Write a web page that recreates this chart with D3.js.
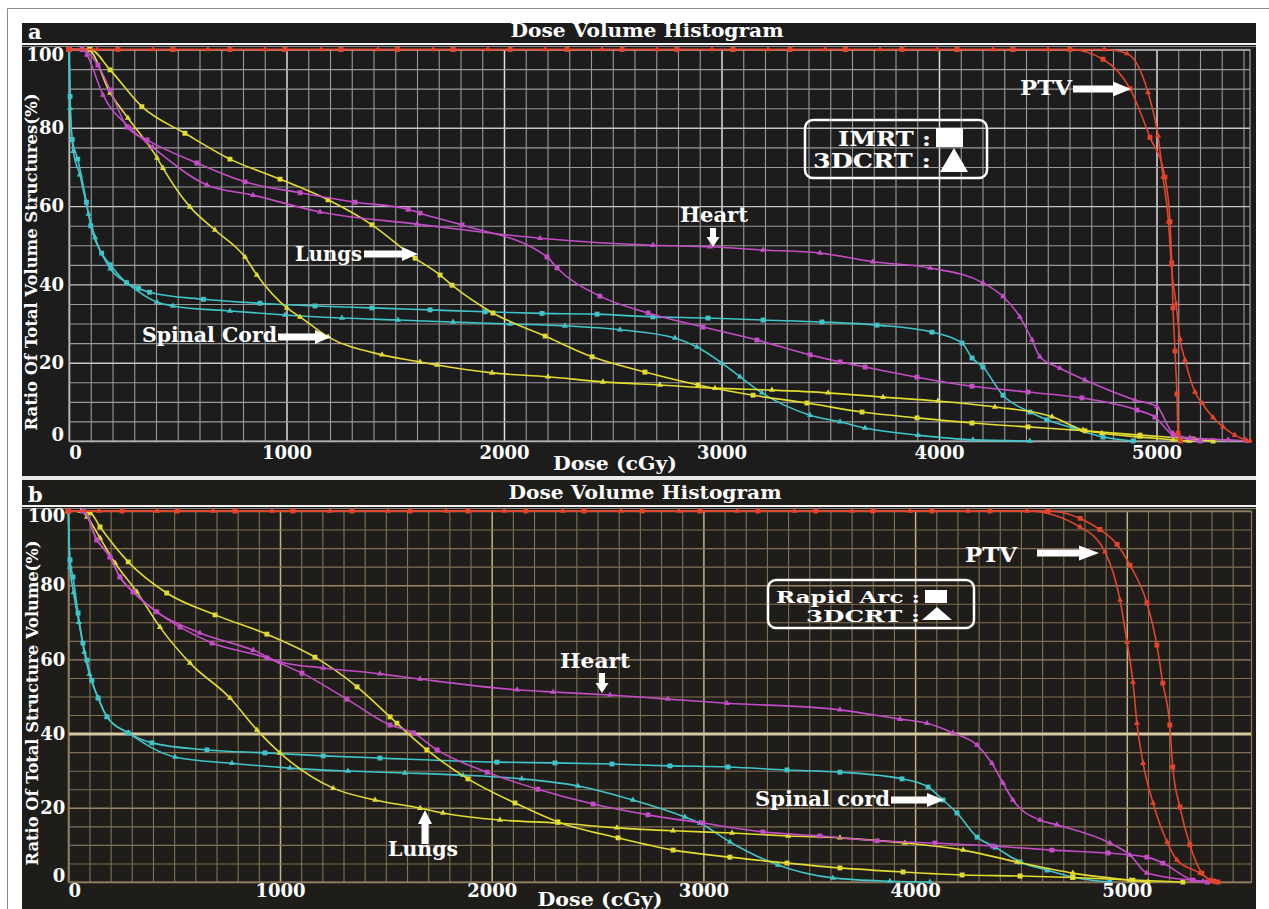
<!DOCTYPE html>
<html>
<head>
<meta charset="utf-8">
<script src="https://cdn.jsdelivr.net/npm/d3@7"></script>
<style>
  html, body { margin: 0; padding: 0; background: #ffffff; }
  svg { display: block; }
</style>
</head>
<body>
<svg id="fig" width="1269" height="909"></svg>
<script>
// ---------------------------------------------------------------------------
// Dose–volume histogram data: [dose (cGy), volume (%)]
// ---------------------------------------------------------------------------
const doseTicks = [0, 1000, 2000, 3000, 4000, 5000];
const volumeTicks = [0, 20, 40, 60, 80, 100];

// (a) IMRT vs 3DCRT
const aPtvImrt = [[0,100],[225,100],[478,100],[740,100],[993,100],[1250,100],[1510,100],[1766,100],[2028,100],[2290,100],[2543,100],[2795,100],[3053,100],[3315,100],[3570,100],[3830,100],[4083,100],[4340,100],[4602,100],[4754,97.5],[4878,90],[4970,77.6],[5039,67.4],[5062,56],[5070,45.5],[5076,34],[5085,23],[5094,12],[5099,2],[5110,0]];
const aPtv3dcrt = [[0,100],[129,100],[386,100],[639,100],[901,100],[1160,100],[1420,100],[1675,100],[1926,100],[2189,100],[2451,100],[2703,100],[2956,100],[3214,100],[3476,100],[3729,100],[3991,100],[4248,100],[4501,100],[4760,100],[4864,99],[4961,89],[5007,78],[5030,67.5],[5055,56],[5068,45],[5090,35],[5108,26],[5131,20.7],[5177,12.5],[5209,9.7],[5260,6],[5306,3.6],[5360,1.5],[5407,0.3],[5430,0]];
const aHeartImrt = [[0,100],[60,100],[133,96],[189,89.7],[267,80.2],[359,76.9],[588,71],[809,66.2],[1062,63.4],[1315,61],[1559,59.2],[1614,58.2],[1807,55.2],[2198,47],[2244,44.2],[2441,37],[2662,32.7],[2915,29.1],[3163,25.8],[3407,22],[3545,20.2],[3660,18.9],[3899,16.3],[4152,14],[4409,12.5],[4657,11],[4910,7.9],[4993,6.1],[5076,1.5],[5200,0]];
const aHeart3dcrt = [[0,100],[64,100],[83,98.6],[156,88.4],[280,80],[386,75],[634,65.4],[846,62.8],[1154,58.5],[1600,55.4],[2166,51.8],[2685,50],[2947,49.6],[3191,48.8],[3453,48],[3696,45.8],[3959,44.2],[4202,40.4],[4294,36.9],[4372,31.7],[4428,25.8],[4464,21.5],[4556,18.6],[4671,15.6],[4901,10.5],[5002,8.8],[5076,2],[5154,0.8],[5329,0.3],[5416,0]];
const aLungImrt = [[0,100],[97,100],[189,94.8],[335,85.4],[533,78.6],[740,72],[970,66.9],[1191,61.6],[1393,55.2],[1591,46.7],[1706,42.4],[1761,39.8],[1949,32.7],[2189,26.8],[2405,21.5],[2648,17.6],[2892,14.3],[3145,11.7],[3393,9.7],[3646,7.4],[3899,5.9],[4152,4.6],[4409,3.6],[4671,2.6],[4924,1.5],[5168,0.5],[5260,0]];
const aLung3dcrt = [[0,100],[88,100],[189,88.9],[271,82.5],[405,72.3],[432,69.7],[556,59.8],[671,53.9],[809,47],[864,42.4],[1002,34],[1062,31.7],[1191,26.6],[1439,22],[1614,20.2],[1692,19.4],[1945,17.4],[2202,16.4],[2455,15.1],[2717,14.3],[2970,13.5],[3232,13],[3490,12.3],[3743,11.2],[3995,10.2],[4257,8.7],[4520,6.2],[4662,2.8],[4749,2],[4924,1],[5076,0.3],[5150,0]];
const aCordImrt = [[0,100],[5,88],[15,77],[40,72],[80,61],[100,55],[150,48],[190,45],[265,40.4],[320,39],[370,38],[618,36.2],[878,35.2],[1131,34.5],[1393,34],[1660,33.5],[1913,33],[2175,32.6],[2428,32.4],[2685,31.7],[2938,31.4],[3191,30.9],[3462,30.4],[3715,29.6],[3968,27.8],[4106,25],[4152,21.2],[4202,18.9],[4294,11.7],[4418,7.4],[4496,5.4],[4616,3.3],[4754,1],[4892,0]];
const aCord3dcrt = [[0,100],[5,85],[20,74],[50,68],[90,58],[120,52],[190,44],[265,40.4],[404,35.5],[478,34.5],[740,33.2],[993,32.2],[1255,31.4],[1513,30.9],[1766,30.4],[2028,29.9],[2280,29.4],[2533,28.4],[2786,26.3],[2887,24],[3002,19.9],[3085,16.4],[3186,12.3],[3407,6.6],[3545,4.9],[3660,3.3],[3903,1.5],[4156,0.3],[4418,0]];

// (b) Rapid Arc vs 3DCRT
const bPtvArc = [[0,100],[254,100],[514,100],[787,100],[1061,100],[1340,100],[1614,100],[1888,100],[2162,100],[2436,100],[2710,100],[2984,100],[3258,100],[3530,100],[3801,100],[4079,100],[4354,100],[4628,100],[4780,98],[4873,95],[4954,91],[5015,85.4],[5095,75.2],[5142,63.9],[5170,53.6],[5203,42.3],[5217,31],[5251,20.2],[5298,10],[5355,2.4],[5408,0.3],[5430,0]];
const bPtv3dcrt = [[0,100],[145,100],[419,100],[684,100],[962,100],[1236,100],[1510,100],[1785,100],[2060,100],[2335,100],[2610,100],[2885,100],[3160,100],[3430,100],[3702,100],[3976,100],[4250,100],[4529,100],[4779,95.7],[4897,89],[4968,76],[5001,64.7],[5029,53.9],[5048,42.8],[5077,32],[5124,21.3],[5190,10.8],[5237,5.9],[5346,2.4],[5394,0.5],[5420,0]];
const bHeartArc = [[0,100],[70,100],[135,92.2],[197,87.6],[244,82.2],[306,78.2],[418,72.8],[528,68.7],[679,64.4],[938,60.4],[1104,56.3],[1316,49.3],[1520,42.3],[1630,40.2],[1742,35.6],[1978,29.6],[2218,25],[2479,21],[2738,18.1],[2998,15.9],[3281,13.5],[3550,12.4],[3820,11.1],[4094,10.5],[4367,9.7],[4646,8.6],[4911,7.8],[5095,6.7],[5170,5.1],[5312,0.5],[5380,0]];
const bHeart3dcrt = [[0,100],[70,100],[135,92.2],[197,87.6],[244,82.2],[306,78.2],[418,72.8],[622,67.1],[873,62.5],[1000,59.3],[1204,57.7],[1472,56.1],[1662,54.7],[2120,51.8],[2290,51.2],[2559,50.4],[2832,49.3],[3111,48.2],[3645,46.4],[3929,43.9],[4056,42.8],[4179,40.2],[4293,36.9],[4363,32],[4415,26.7],[4462,22.1],[4590,16.7],[4670,15.4],[4920,10.5],[5015,7.3],[5095,2.4],[5360,0.2],[5420,0]];
const bLungArc = [[0,100],[103,99.5],[150,95.7],[283,86.3],[465,77.9],[693,72],[938,66.8],[1165,60.6],[1364,52.6],[1520,44.5],[1552,42.8],[1694,35.6],[1888,27.8],[2110,21.3],[2313,16.2],[2597,11.9],[2857,8.6],[3125,6.7],[3395,5.1],[3645,3.8],[3943,2.7],[4222,1.9],[4496,1.6],[4745,1.2],[5029,0.5],[5265,0]];
const bLung3dcrt = [[0,100],[60,100],[89,98.4],[150,92.7],[221,86],[324,78.2],[433,68.7],[575,59],[764,49.6],[891,41],[1000,34.8],[1251,25.3],[1449,22.1],[1662,19.9],[1770,18.6],[2039,16.7],[2313,15.9],[2592,14.6],[2857,13.8],[3135,13.2],[3400,12.4],[3645,11.9],[3952,10.5],[4227,8.6],[4481,5.4],[4745,2.4],[5015,0.5],[5100,0]];
const bCordArc = [[0,100],[8,86.8],[22,82.2],[46,72.5],[69,64.4],[88,59.8],[111,54.4],[141,49.6],[183,44.5],[283,40.2],[395,37.5],[655,35.6],[929,34.8],[1204,34],[1472,33.4],[2025,32.3],[2299,32.1],[2568,31.8],[2842,31.3],[3116,31],[3395,30.2],[3645,29.6],[3938,27.8],[4061,25.6],[4132,22.1],[4198,18.6],[4293,12.1],[4378,9.4],[4496,5.4],[4623,3.2],[4745,1.3],[4920,0]];
const bCord3dcrt = [[0,100],[8,85],[25,78],[50,70],[75,62],[100,56],[141,49.6],[183,44.5],[283,40.2],[504,33.7],[773,32],[1047,30.7],[1321,29.9],[1590,29.4],[1864,28.8],[2142,27.8],[2407,25.9],[2667,22.1],[2913,17.5],[2983,15.9],[3125,10.8],[3352,4.6],[3612,1.1],[3881,0.2],[4070,0]];

// ---------------------------------------------------------------------------
// Styling
// ---------------------------------------------------------------------------
const FONT = "'DejaVu Serif', 'Liberation Serif', serif";
const CYAN = "#3fc4c9", YELLOW = "#e2dc2e", MAGENTA = "#c24dc6", RED = "#e4442a";

const svg = d3.select("#fig");
svg.append("rect").attr("width", 1269).attr("height", 909).attr("fill", "#ffffff");
// thin outer frame
svg.append("line").attr("x1", 7.5).attr("y1", 8.5).attr("x2", 1269).attr("y2", 8.5)
  .attr("stroke", "#8a8a8a").attr("stroke-width", 1);
svg.append("line").attr("x1", 7.5).attr("y1", 8.5).attr("x2", 7.5).attr("y2", 909)
  .attr("stroke", "#8a8a8a").attr("stroke-width", 1);

function addText(g, str, opts) {
  const t = g.append("text")
    .attr("x", opts.x).attr("y", opts.y)
    .attr("fill", opts.fill || "#ffffff")
    .attr("font-family", FONT)
    .attr("font-weight", "bold")
    .attr("font-size", opts.size)
    .attr("text-anchor", opts.anchor || "start")
    .text(str);
  if (opts.len) t.attr("textLength", opts.len).attr("lengthAdjust", "spacingAndGlyphs");
  if (opts.rotate) t.attr("transform", `rotate(${opts.rotate},${opts.x},${opts.y})`);
  if (opts.baseline) t.attr("dominant-baseline", opts.baseline);
  return t;
}

// block arrow from (x1,y1) to tip (x2,y2)
function arrow(g, x1, y1, x2, y2, shaft, headLen, headHalf) {
  const dx = x2 - x1, dy = y2 - y1, L = Math.hypot(dx, dy);
  const ux = dx / L, uy = dy / L, px = -uy, py = ux;
  const bx = x2 - ux * headLen, by = y2 - uy * headLen;
  const pts = [
    [x1 + px * shaft, y1 + py * shaft],
    [bx + px * shaft, by + py * shaft],
    [bx + px * headHalf, by + py * headHalf],
    [x2, y2],
    [bx - px * headHalf, by - py * headHalf],
    [bx - px * shaft, by - py * shaft],
    [x1 - px * shaft, y1 - py * shaft]
  ];
  g.append("path").attr("d", "M" + pts.map(p => p.join(",")).join("L") + "Z")
    .attr("fill", "#ffffff");
}

function drawPanel(cfg) {
  const g = svg.append("g");
  g.append("rect").attr("x", 22).attr("y", cfg.top).attr("width", 1234)
    .attr("height", cfg.bottom - cfg.top).attr("fill", cfg.bg);

  // title strip and rule underneath
  g.append("line").attr("x1", 22).attr("x2", 1256).attr("y1", cfg.ruleY).attr("y2", cfg.ruleY)
    .attr("stroke", "#f2f2f2").attr("stroke-width", 2);
  g.append("line").attr("x1", 22).attr("x2", 1256).attr("y1", cfg.ruleY + 2.5).attr("y2", cfg.ruleY + 2.5)
    .attr("stroke", "#8c8c8c").attr("stroke-width", 1);
  addText(g, cfg.letter, { x: cfg.letterX, y: cfg.letterY, size: 21 });
  addText(g, "Dose Volume Histogram", { x: cfg.titleX, y: cfg.titleY, size: 18, anchor: "middle", len: cfg.titleLen });

  const x = d3.scaleLinear().domain([0, 5000]).range(cfg.xRange);
  const y = d3.scaleLinear().domain([0, 100]).range(cfg.yRange);
  const x0 = cfg.xRange[0], xR = cfg.plotRight;
  const yB = cfg.yRange[0], yT = cfg.yRange[1];
  const xMaxDose = x.invert(xR);

  // vertical grid every 100 cGy
  const vg = g.append("g").attr("transform", `translate(0,${yB})`)
    .call(d3.axisBottom(x).tickValues(d3.range(0, xMaxDose, 100)).tickSize(-(yB - yT)).tickFormat(""));
  vg.select(".domain").remove();
  vg.selectAll(".tick line")
    .attr("stroke", d => d % 1000 === 0 ? cfg.gridMajor : cfg.gridMinor)
    .attr("stroke-width", d => d % 1000 === 0 ? 1.5 : 1.1);

  // horizontal grid every 5 %
  const hg = g.append("g").attr("transform", `translate(${x0},0)`)
    .call(d3.axisLeft(y).tickValues(d3.range(0, 101, 5)).tickSize(-(xR - x0)).tickFormat(""));
  hg.select(".domain").remove();
  hg.selectAll(".tick line")
    .attr("stroke", d => (d === cfg.highlight ? cfg.highlightColor : (d % 20 === 0 ? cfg.gridMajorH : cfg.gridMinor)))
    .attr("stroke-width", d => (d === cfg.highlight ? 3 : (d % 20 === 0 ? 1.4 : 1.1)));

  // plot frame
  g.append("rect").attr("x", x0).attr("y", yT).attr("width", xR - x0).attr("height", yB - yT)
    .attr("fill", "none").attr("stroke", cfg.frame).attr("stroke-width", 1.2);

  // curves
  const clipId = "clip-" + cfg.letter;
  g.append("clipPath").attr("id", clipId).append("rect")
    .attr("x", x0 - 4).attr("y", yT - 5).attr("width", xR - x0 + 6).attr("height", yB - yT + 9);
  const curves = g.append("g").attr("clip-path", `url(#${clipId})`);
  const line = d3.line().x(d => x(d[0])).y(d => y(d[1])).curve(d3.curveMonotoneX);
  cfg.series.forEach(s => {
    curves.append("path").datum(s.data).attr("d", line)
      .attr("fill", "none").attr("stroke", s.color).attr("stroke-width", 1.6)
      .attr("stroke-linejoin", "round");
    const sym = d3.symbol().type(s.shape === "square" ? d3.symbolSquare : d3.symbolTriangle)
      .size(s.shape === "square" ? 24 : 16);
    curves.selectAll(null).data(s.data).join("path")
      .attr("d", sym)
      .attr("transform", d => `translate(${x(d[0])},${y(d[1])})`)
      .attr("fill", s.color);
  });

  // tick labels
  const xl = g.append("g").attr("transform", `translate(0,${yB})`)
    .call(d3.axisBottom(x).tickValues(doseTicks).tickFormat(d3.format("d")).tickSize(0).tickPadding(cfg.xLabelPad));
  xl.select(".domain").remove();
  xl.selectAll("text").attr("fill", "#ffffff").attr("font-family", FONT)
    .attr("font-weight", "bold").attr("font-size", 18)
    .attr("dx", d => d === 0 ? 6 : 0);
  const yl = g.append("g").attr("transform", `translate(${x0},0)`)
    .call(d3.axisLeft(y).tickValues(volumeTicks).tickFormat(d3.format("d")).tickSize(0).tickPadding(cfg.yLabelPad));
  yl.select(".domain").remove();
  yl.selectAll("text").attr("fill", "#ffffff").attr("font-family", FONT)
    .attr("font-weight", "bold").attr("font-size", 18)
    .attr("transform", d => d === 100 ? "translate(0,5)" : (d === 0 ? "translate(0,-6)" : null));

  // axis titles
  addText(g, "Dose (cGy)", { x: cfg.xTitleX, y: cfg.xTitleY, size: 18, anchor: "middle", len: cfg.xTitleLen });
  addText(g, cfg.yTitle, { x: cfg.yTitleX, y: cfg.yTitleY, size: 17, anchor: "middle",
    len: cfg.yTitleLen, rotate: -90, baseline: "central" });

  // legend
  const lg = cfg.legend;
  g.append("rect").attr("x", lg.box[0]).attr("y", lg.box[1]).attr("width", lg.box[2]).attr("height", lg.box[3])
    .attr("rx", 8).attr("fill", "none").attr("stroke", "#ffffff").attr("stroke-width", 2.5);
  lg.rows.forEach(r => {
    addText(g, r.label, { x: r.x, y: r.y, size: r.size, anchor: "end", len: r.len });
    if (r.shape === "square") {
      g.append("rect").attr("x", r.sx).attr("y", r.sy).attr("width", r.sw).attr("height", r.sh).attr("fill", "#ffffff");
    } else {
      g.append("path").attr("d", `M${r.sx},${r.sy + r.sh}L${r.sx + r.sw / 2},${r.sy}L${r.sx + r.sw},${r.sy + r.sh}Z`)
        .attr("fill", "#ffffff");
    }
  });

  // structure annotations
  cfg.notes.forEach(n => {
    addText(g, n.text, { x: n.x, y: n.y, size: 20, len: n.len });
    arrow(g, n.a[0], n.a[1], n.a[2], n.a[3], n.shaft, n.head, n.headHalf);
  });
}

drawPanel({
  letter: "a", top: 23, bottom: 476, letterX: 28, letterY: 39,
  titleX: 647, titleY: 37, titleLen: 273, ruleY: 44,
  xRange: [69, 1156.5], plotRight: 1250, yRange: [441, 49.5],
  bg: "#1c1c1c", gridMinor: "#9a9a9a", gridMajor: "#dcdcdc", gridMajorH: "#c4c4c4", frame: "#a0a0a0",
  highlight: null, highlightColor: null,
  xLabelPad: 5, yLabelPad: 5,
  yTitle: "Ratio Of Total Volume Structures(%)", yTitleX: 31, yTitleY: 262, yTitleLen: 337,
  xTitleX: 615, xTitleY: 470, xTitleLen: 124,
  legend: {
    box: [805, 120, 182, 58],
    rows: [
      { label: "IMRT :", x: 931, y: 146, size: 20, len: 93, shape: "square", sx: 936, sy: 128, sw: 27, sh: 19 },
      { label: "3DCRT :", x: 931, y: 168, size: 20, len: 118, shape: "triangle", sx: 940, sy: 148, sw: 28, sh: 24 }
    ]
  },
  notes: [
    { text: "PTV", x: 1020, y: 95, len: 52, a: [1073, 89, 1131, 89], shaft: 3.5, head: 18, headHalf: 7.5 },
    { text: "Heart", x: 680, y: 222, len: 68, a: [713, 228, 713, 247], shaft: 3, head: 10, headHalf: 6.5 },
    { text: "Lungs", x: 295, y: 261, len: 67, a: [364, 254, 418, 254], shaft: 3.5, head: 16, headHalf: 7 },
    { text: "Spinal Cord", x: 142, y: 342, len: 135, a: [278, 337, 331, 337], shaft: 3.5, head: 16, headHalf: 7 }
  ],
  series: [
    { data: aCordImrt, color: CYAN, shape: "square" },
    { data: aCord3dcrt, color: CYAN, shape: "triangle" },
    { data: aLungImrt, color: YELLOW, shape: "square" },
    { data: aLung3dcrt, color: YELLOW, shape: "triangle" },
    { data: aHeartImrt, color: MAGENTA, shape: "square" },
    { data: aHeart3dcrt, color: MAGENTA, shape: "triangle" },
    { data: aPtvImrt, color: RED, shape: "square" },
    { data: aPtv3dcrt, color: RED, shape: "triangle" }
  ]
});

// white separator between the two panels
svg.append("rect").attr("x", 22).attr("y", 476).attr("width", 1234).attr("height", 4).attr("fill", "#e8e8e8");

drawPanel({
  letter: "b", top: 480, bottom: 909, letterX: 28, letterY: 502,
  titleX: 645, titleY: 499, titleLen: 273, ruleY: 506,
  xRange: [68.3, 1126.8], plotRight: 1251.5, yRange: [882, 511],
  bg: "#1f1d1a", gridMinor: "#827153", gridMajor: "#c2b18a", gridMajorH: "#978666", frame: "#8a7b5e",
  highlight: 40, highlightColor: "#d6c7a1",
  xLabelPad: 2, yLabelPad: 3,
  yTitle: "Ratio Of Total Structure Volume(%)", yTitleX: 32, yTitleY: 703, yTitleLen: 325,
  xTitleX: 600, xTitleY: 906, xTitleLen: 125,
  legend: {
    box: [768, 580, 206, 48],
    rows: [
      { label: "Rapid Arc :", x: 920, y: 603, size: 17, len: 144, shape: "square", sx: 925, sy: 590, sw: 22, sh: 13 },
      { label: "3DCRT :", x: 920, y: 622, size: 17, len: 114, shape: "triangle", sx: 922, sy: 607, sw: 30, sh: 13 }
    ]
  },
  notes: [
    { text: "PTV", x: 965, y: 562, len: 52, a: [1037, 553, 1099, 553], shaft: 3.5, head: 20, headHalf: 7.5 },
    { text: "Heart", x: 560, y: 668, len: 70, a: [602, 673, 602, 693], shaft: 3, head: 10, headHalf: 6.5 },
    { text: "Lungs", x: 388, y: 856, len: 70, a: [425, 844, 425, 810], shaft: 3.5, head: 14, headHalf: 7 },
    { text: "Spinal cord", x: 755, y: 806, len: 135, a: [891, 800, 944, 800], shaft: 3.5, head: 17, headHalf: 7 }
  ],
  series: [
    { data: bCordArc, color: CYAN, shape: "square" },
    { data: bCord3dcrt, color: CYAN, shape: "triangle" },
    { data: bLungArc, color: YELLOW, shape: "square" },
    { data: bLung3dcrt, color: YELLOW, shape: "triangle" },
    { data: bHeartArc, color: MAGENTA, shape: "square" },
    { data: bHeart3dcrt, color: MAGENTA, shape: "triangle" },
    { data: bPtvArc, color: RED, shape: "square" },
    { data: bPtv3dcrt, color: RED, shape: "triangle" }
  ]
});
</script>
</body>
</html>
